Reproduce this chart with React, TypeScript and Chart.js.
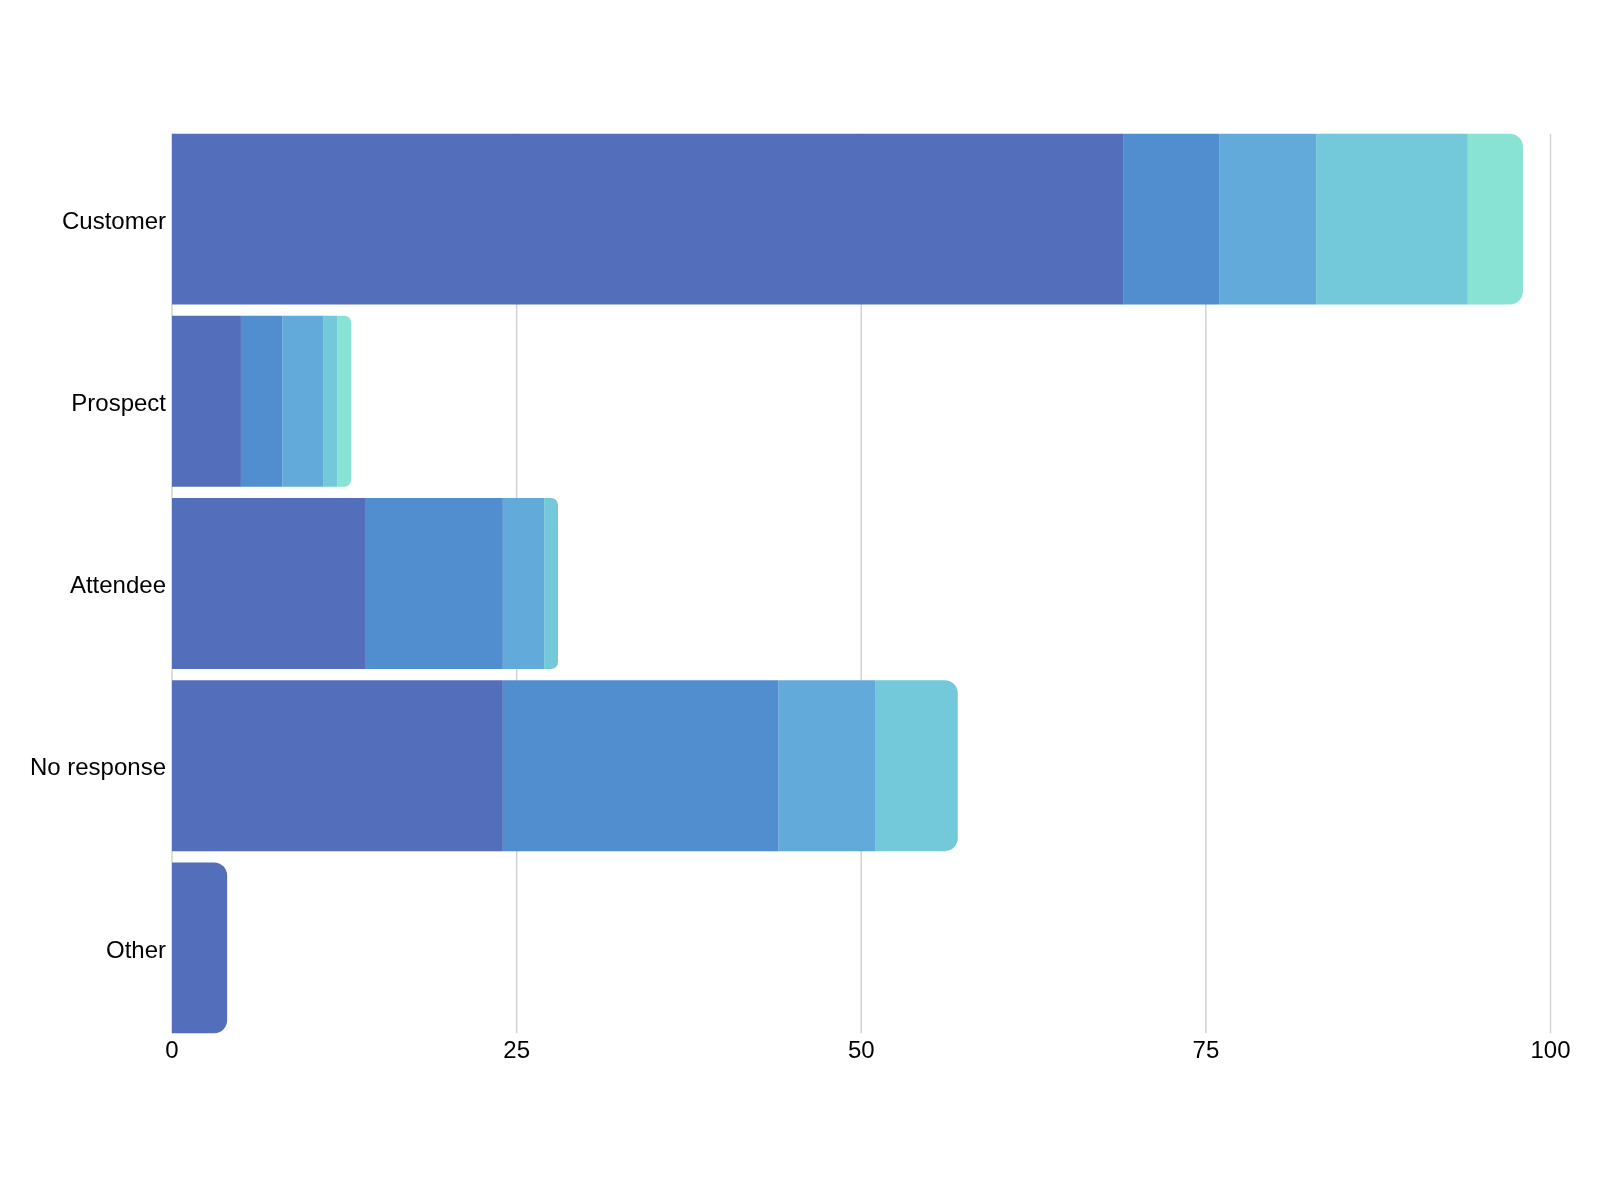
import React, { useEffect, useRef } from "react";
import { Chart, registerables } from "chart.js";

Chart.register(...registerables);

const categories = ["Customer", "Prospect", "Attendee", "No response", "Other"];
const series1 = [69, 5, 14, 24, 4];
const series2 = [7, 3, 10, 20, 0];
const series3 = [7, 3, 3, 7, 0];
const series4 = [11, 1, 1, 6, 0];
const series5 = [4, 1, 0, 0, 0];
const seriesColors = ["#536EBA", "#508ECF", "#62AAD9", "#73C8D9", "#88E3D5"];
const xTickValues = [0, 25, 50, 75, 100];

const CAT_PCT = 0.938;

const gridPlugin = {
  id: "customGrid",
  beforeDatasetsDraw(chart: any) {
    const { ctx, chartArea, scales } = chart;
    const xs = scales.x;
    const ys = scales.y;
    const pitch = (chartArea.bottom - chartArea.top) / ys.ticks.length;
    const gap = (pitch * (1 - CAT_PCT)) / 2;
    ctx.save();
    ctx.strokeStyle = "#d2d2d2";
    ctx.lineWidth = 1.5;
    for (const v of xTickValues) {
      const px = xs.getPixelForValue(v);
      ctx.beginPath();
      ctx.moveTo(px, chartArea.top + gap);
      ctx.lineTo(px, chartArea.bottom - gap);
      ctx.stroke();
    }
    ctx.restore();
  },
};

export default function App() {
  const ref = useRef<HTMLCanvasElement | null>(null);
  useEffect(() => {
    if (!ref.current) return;
    const allSeries = [series1, series2, series3, series4, series5];
    const chart = new Chart(ref.current, {
      type: "bar",
      data: {
        labels: categories,
        datasets: allSeries.map((s, i) => ({
          label: "Series " + (i + 1),
          data: s,
          backgroundColor: seriesColors[i],
          borderWidth: 0,
          borderRadius: 13,
          borderSkipped: "start" as const,
          barPercentage: 1,
          categoryPercentage: CAT_PCT,
        })),
      },
      options: {
        indexAxis: "y",
        responsive: false,
        animation: false,
        layout: { padding: { top: 128, bottom: 119, left: 0, right: 49.5 } },
        plugins: {
          legend: { display: false },
          title: { display: false },
          tooltip: { enabled: false },
        },
        scales: {
          x: {
            stacked: true,
            min: 0,
            max: 100,
            grid: { display: false, drawTicks: false },
            border: { display: false },
            ticks: {
              stepSize: 25,
              padding: -2,
              color: "#000",
              font: { family: "'Liberation Sans', Arial, sans-serif", size: 24 },
            },
            afterFit(scale: any) {
              scale.height = 40;
            },
          },
          y: {
            stacked: true,
            grid: { display: false, drawTicks: false },
            border: { display: false },
            ticks: {
              padding: 6,
              labelOffset: 3,
              color: "#000",
              font: { family: "'Liberation Sans', Arial, sans-serif", size: 24 },
            },
            afterFit(scale: any) {
              scale.width = 172;
            },
          },
        },
      },
      plugins: [gridPlugin],
    });
    return () => chart.destroy();
  }, []);
  return (
    <div style={{ position: "fixed", left: 0, top: 0, width: 1600, height: 1198, background: "#fff" }}>
      <canvas ref={ref} width={1600} height={1198} style={{ display: "block", width: 1600, height: 1198 }} />
    </div>
  );
}
